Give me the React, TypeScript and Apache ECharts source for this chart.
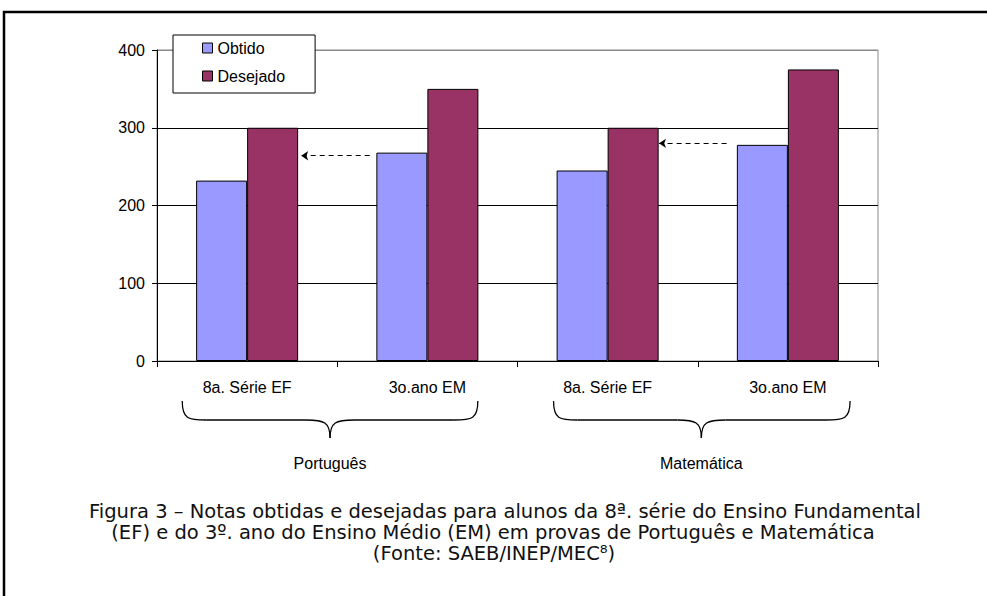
import React, { useEffect, useRef } from "react";
import * as echarts from "echarts";

const categories = ["8a. Série EF", "3o.ano EM", "8a. Série EF", "3o.ano EM"];
const obtido = [232, 268, 245, 278];
const desejado = [300, 350, 300, 375];
const yTicks = { min: 0, max: 400, interval: 100 };
// dashed arrows: [fromX, toX, value] on a 0..4 category-continuous scale
const arrowFromX = [1.18, 3.16];
const arrowToX = [0.8, 2.785];
const arrowValue = [264, 280];
const groupLabels = ["Português", "Matemática"];
const captionLines = [
  "Figura 3 – Notas obtidas e desejadas para alunos da 8ª. série do Ensino Fundamental",
  "(EF) e do 3º. ano do Ensino Médio (EM) em provas de Português e Matemática",
  "(Fonte: SAEB/INEP/MEC⁸)",
];

// decoration geometry (brace spans on the continuous x scale)
const braceStart = [0.14, 2.2];
const braceEnd = [1.78, 3.845];
const braceTip = [0.96, 3.02];

export default function App() {
  const ref = useRef<HTMLDivElement>(null);
  useEffect(() => {
    if (!ref.current) return;
    const chart = echarts.init(ref.current, undefined, { renderer: "svg" });
    const font = "'Liberation Sans', Arial, sans-serif";
    const fs = 16;
    chart.setOption({
      animation: false,
      backgroundColor: "#fff",
      textStyle: { fontFamily: font },
      grid: {
        left: 157,
        top: 50,
        right: 109,
        bottom: 235,
        show: true,
        borderColor: "#888",
        borderWidth: 1,
      },
      legend: {
        data: ["Obtido", "Desejado"],
        orient: "vertical",
        left: 173,
        top: 35,
        padding: [5, 30, 9, 29],
        itemGap: 12,
        itemWidth: 10,
        itemHeight: 10,
        icon: "rect",
        backgroundColor: "#fff",
        borderColor: "#000",
        borderWidth: 1,
        itemStyle: { borderColor: "#000", borderWidth: 1 },
        textStyle: { fontFamily: font, fontSize: fs, color: "#000", padding: [0, 0, 0, 0] },
        z: 10,
      },
      xAxis: [
        {
          type: "category",
          data: categories,
          axisLine: { lineStyle: { color: "#000", width: 1 } },
          axisTick: { show: true, length: 6, lineStyle: { color: "#000" } },
          axisLabel: { color: "#000", fontSize: fs, fontFamily: font, margin: 18 },
          splitLine: { show: false },
        },
        { type: "value", min: 0, max: 4, show: false },
      ],
      yAxis: {
        type: "value",
        min: yTicks.min,
        max: yTicks.max,
        interval: yTicks.interval,
        axisLine: { show: true, lineStyle: { color: "#000" } },
        axisTick: { show: true, length: 5, lineStyle: { color: "#000" } },
        axisLabel: { color: "#000", fontSize: fs, fontFamily: font, margin: 12 },
        splitLine: { show: true, lineStyle: { color: ["#000", "#000", "#000", "#000", "#888"], width: 1 } },
      },
      series: [
        {
          name: "Obtido",
          type: "bar",
          data: obtido,
          barGap: "0%",
          barCategoryGap: "43.4%",
          itemStyle: { color: "#9999FF", borderColor: "#000", borderWidth: 1 },
        },
        {
          name: "Desejado",
          type: "bar",
          data: desejado,
          barGap: "0%",
          barCategoryGap: "43.4%",
          itemStyle: { color: "#993366", borderColor: "#000", borderWidth: 1 },
        },
        {
          name: "arrows",
          type: "lines",
          coordinateSystem: "cartesian2d",
          xAxisIndex: 1,
          yAxisIndex: 0,
          symbol: ["none", "arrow"],
          symbolSize: 7,
          lineStyle: { color: "#000", width: 1.2, type: [5, 4], opacity: 1 },
          data: arrowFromX.map((fx, i) => ({
            coords: [
              [fx, arrowValue[i]],
              [arrowToX[i], arrowValue[i]],
            ],
          })),
          z: 5,
        },
      ],
    });

    const px = (v: number) => chart.convertToPixel({ xAxisIndex: 1 }, v) as number;
    const y0 = 401, y1 = 420, y2 = 438;
    const stroke = { stroke: "#000", lineWidth: 1.3, fill: "none" };
    const braces: any[] = [];
    groupLabels.forEach((label, i) => {
      const a = px(braceStart[i]);
      const b = px(braceEnd[i]);
      const c = px(braceTip[i]);
      const r = 24;
      braces.push(
        { type: "bezierCurve", shape: { x1: a, y1: y0, cpx1: a, cpy1: y1 - 1, cpx2: a + 6, cpy2: y1, x2: a + r, y2: y1 }, style: stroke },
        { type: "line", shape: { x1: a + r, y1: y1, x2: c - r, y2: y1 }, style: stroke },
        { type: "bezierCurve", shape: { x1: c - r, y1: y1, cpx1: c - 6, cpy1: y1, cpx2: c, cpy2: y1 + 2, x2: c, y2: y2 }, style: stroke },
        { type: "bezierCurve", shape: { x1: c, y1: y2, cpx1: c, cpy1: y1 + 2, cpx2: c + 6, cpy2: y1, x2: c + r, y2: y1 }, style: stroke },
        { type: "line", shape: { x1: c + r, y1: y1, x2: b - r, y2: y1 }, style: stroke },
        { type: "bezierCurve", shape: { x1: b - r, y1: y1, cpx1: b - 6, cpy1: y1, cpx2: b, cpy2: y1 - 1, x2: b, y2: y0 }, style: stroke },
        {
          type: "text",
          x: c,
          y: 463,
          style: { text: label, fontFamily: font, fontSize: fs, fill: "#000", align: "center", verticalAlign: "middle" },
        }
      );
    });
    const capX = [505, 493, 494];
    const capY = [511, 532, 553];
    const captions = captionLines.map((t, i) => ({
      type: "text",
      x: capX[i],
      y: capY[i],
      style: {
        text: t,
        fontFamily: "'DejaVu Sans', Verdana, sans-serif",
        fontSize: 19.5,
        fill: "#111",
        align: "center",
        verticalAlign: "middle",
      },
    }));
    chart.setOption({
      graphic: [
        {
          type: "rect",
          shape: { x: 4, y: 12, width: 1100, height: 700 },
          style: { fill: "none", stroke: "#000", lineWidth: 2.5 },
          silent: true,
        },
        ...braces,
        ...captions,
      ],
    });
    return () => chart.dispose();
  }, []);
  return (
    <div
      ref={ref}
      style={{ position: "absolute", left: 0, top: 0, width: 987, height: 596 }}
    />
  );
}
